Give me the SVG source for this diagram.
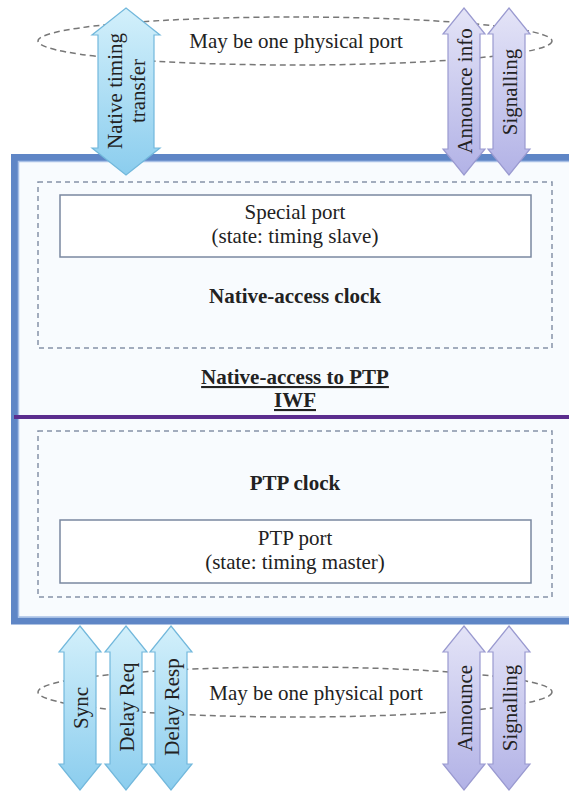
<svg xmlns="http://www.w3.org/2000/svg" width="569" height="794" viewBox="0 0 569 794">
<style>
text{fill:#222;font-size:21px}
.b{font-weight:bold}
.u{text-decoration:underline}
.c{text-anchor:middle}
.r{text-anchor:middle;dominant-baseline:central}
.dash{fill:none;stroke:#8592a8;stroke-width:1.5;stroke-dasharray:5 4}
.ell{fill:none;stroke:#777;stroke-width:1.5;stroke-dasharray:6 4}
.box{fill:#fff;stroke:#7a88a0;stroke-width:1.5}
.ab{fill:url(#gb);stroke:#72b8dc;stroke-width:1.2}
.al{fill:url(#gl);stroke:#9a9ad0;stroke-width:1.2}
</style>
<defs>
<linearGradient id="gb" x1="0" y1="0" x2="0" y2="1">
<stop offset="0" stop-color="#d3f0fb"/><stop offset="1" stop-color="#8bcdee"/>
</linearGradient>
<linearGradient id="gl" x1="0" y1="0" x2="0" y2="1">
<stop offset="0" stop-color="#e4e4f7"/><stop offset="1" stop-color="#b2b2e6"/>
</linearGradient>
</defs>
<rect width="569" height="794" fill="#fff"/>
<g font-family="Liberation Serif, serif">
<g id="iwf">
<rect x="14.5" y="157.5" width="600" height="463.5" fill="#f8fbfe" stroke="#5f86c6" stroke-width="7"/>
<rect x="18.5" y="161.5" width="600" height="455.5" fill="none" stroke="#a8c0e6" stroke-width="1.5"/>
<text class="b u c" x="295" y="384">Native-access to PTP</text>
<text class="b u c" x="295" y="407">IWF</text>
<line x1="14" y1="417" x2="569" y2="417" stroke="#5b2d8e" stroke-width="4"/>
</g>
<g id="native-clock">
<rect class="dash" x="38" y="182" width="514" height="166"/>
<text class="b c" x="295" y="303">Native-access clock</text>
</g>
<g id="special-port">
<rect class="box" x="60" y="195" width="471" height="62"/>
<text class="c" x="295" y="219">Special port</text>
<text class="c" x="295" y="243">(state: timing slave)</text>
</g>
<g id="ptp-clock">
<rect class="dash" x="38" y="431" width="514" height="166"/>
<text class="b c" x="295" y="490">PTP clock</text>
</g>
<g id="ptp-port">
<rect class="box" x="60" y="520" width="471" height="63"/>
<text class="c" x="295" y="545">PTP port</text>
<text class="c" x="295" y="569">(state: timing master)</text>
</g>
<g id="top-port">
<ellipse class="ell" cx="295" cy="41" rx="257" ry="24"/>
<text class="c" x="296" y="48">May be one physical port</text>
</g>
<g id="bottom-port">
<ellipse class="ell" cx="295" cy="692" rx="257" ry="25"/>
<text class="c" x="316" y="700">May be one physical port</text>
</g>
<g id="connectors">
<path class="ab" d="M126,8 L160,35 L154,35 L154,148 L160,148 L126,175 L92,148 L98,148 L98,35 L92,35 Z"/>
<path class="al" d="M464,8 L485,34 L480,34 L480,149 L485,149 L464,175 L443,149 L448,149 L448,34 L443,34 Z"/>
<path class="al" d="M509,8 L530,34 L525,34 L525,149 L530,149 L509,175 L488,149 L493,149 L493,34 L488,34 Z"/>
<path class="ab" d="M80,626 L101,652 L96,652 L96,764 L101,764 L80,790 L59,764 L64,764 L64,652 L59,652 Z"/>
<path class="ab" d="M126,626 L147,652 L142,652 L142,764 L147,764 L126,790 L105,764 L110,764 L110,652 L105,652 Z"/>
<path class="ab" d="M171,626 L192,652 L187,652 L187,764 L192,764 L171,790 L150,764 L155,764 L155,652 L150,652 Z"/>
<path class="al" d="M464,626 L485,652 L480,652 L480,764 L485,764 L464,790 L443,764 L448,764 L448,652 L443,652 Z"/>
<path class="al" d="M509,626 L530,652 L525,652 L525,764 L530,764 L509,790 L488,764 L493,764 L493,652 L488,652 Z"/>
<text class="r" transform="translate(115,91) rotate(-90)">Native timing</text>
<text class="r" transform="translate(138,91) rotate(-90)">transfer</text>
<text class="r" transform="translate(465,91) rotate(-90)">Announce info</text>
<text class="r" transform="translate(510,92) rotate(-90)">Signalling</text>
<text class="r" transform="translate(81,708) rotate(-90)">Sync</text>
<text class="r" transform="translate(127,707) rotate(-90)">Delay Req</text>
<text class="r" transform="translate(172,707) rotate(-90)">Delay Resp</text>
<text class="r" transform="translate(465,708) rotate(-90)">Announce</text>
<text class="r" transform="translate(510,708) rotate(-90)">Signalling</text>
</g>
</g>
</svg>
